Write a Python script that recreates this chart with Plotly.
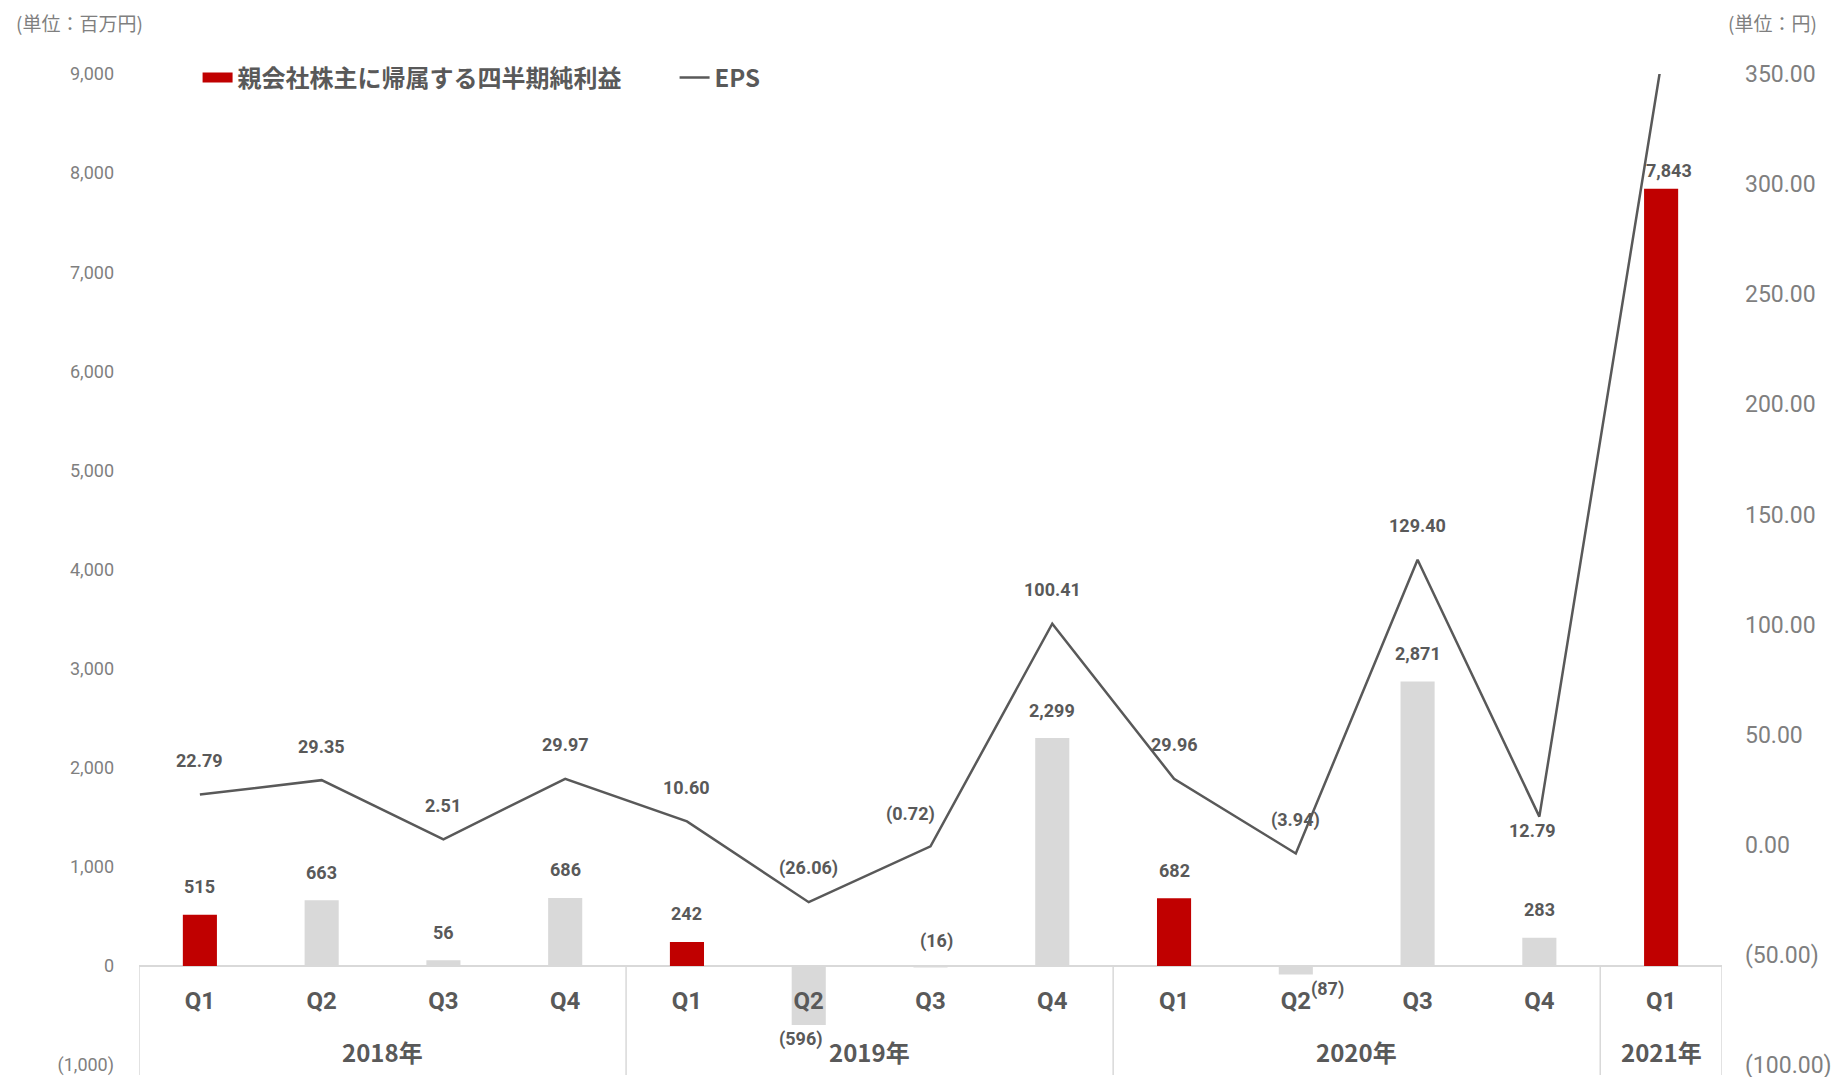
import plotly.graph_objects as go

years = ["2018年"] * 4 + ["2019年"] * 4 + ["2020年"] * 4 + ["2021年"]
quarters = ["Q1", "Q2", "Q3", "Q4"] * 3 + ["Q1"]
net_income = [515, 663, 56, 686, 242, -596, -16, 2299, 682, -87, 2871, 283, 7843]
eps = [22.79, 29.35, 2.51, 29.97, 10.60, -26.06, -0.72, 100.41, 29.96, -3.94, 129.40, 12.79, 354.43]
left_ticks = list(range(-1000, 9001, 1000))
right_ticks = list(range(-100, 351, 50))

# label offsets in px (xshift, yshift) from the value
ni_shift = [(0, 28), (0, 28), (0, 28), (0, 28), (0, 28), (-8, -14), (6, 26),
            (0, 28), (0, 28), (32, -14), (0, 28), (0, 28), (8, 18)]
eps_shift = [(0, 34), (0, 34), (0, 34), (0, 34), (0, 34), (0, 34), (-20, 32),
             (0, 34), (0, 34), (0, 33), (0, 34), (-7, -14), (-9, 13)]

RED = "#C00000"
GREY = "#D9D9D9"
TXT = "#595959"
NUM_FONT = "Roboto, 'Noto Sans CJK JP', sans-serif"
JP_FONT = "'Noto Sans CJK JP', sans-serif"


def paren(v, fmt):
    return "(" + fmt.format(-v) + ")" if v < 0 else fmt.format(v)


x = list(range(len(quarters)))
y_range = [left_ticks[0], left_ticks[-1]]
zero_frac = (0 - y_range[0]) / (y_range[1] - y_range[0])

red_x = [i for i in x if quarters[i] == "Q1"]
grey_x = [i for i in x if quarters[i] != "Q1"]

fig = go.Figure()

fig.add_trace(go.Bar(
    x=red_x,
    y=[net_income[i] for i in red_x],
    marker=dict(color=RED, line=dict(width=0)),
    width=0.28,
    showlegend=False,
    hoverinfo="skip",
))
fig.add_trace(go.Bar(
    x=grey_x,
    y=[net_income[i] for i in grey_x],
    marker=dict(color=GREY, line=dict(width=0)),
    width=0.28,
    showlegend=False,
    hoverinfo="skip",
))
# legend entry drawn as a wide red block, like the original
fig.add_trace(go.Scatter(
    x=[None], y=[None],
    mode="lines",
    line=dict(color=RED, width=12),
    name="親会社株主に帰属する四半期純利益",
))
fig.add_trace(go.Scatter(
    x=x,
    y=eps,
    yaxis="y2",
    mode="lines",
    line=dict(color=TXT, width=2.5),
    name="EPS",
    hoverinfo="skip",
))

annotations = []
for i, v in enumerate(net_income):
    annotations.append(dict(
        x=i, y=v, xref="x", yref="y", text=paren(v, "{:,}"), showarrow=False,
        xshift=ni_shift[i][0], yshift=ni_shift[i][1], yanchor="middle",
        font=dict(family=NUM_FONT, size=18, color=TXT, weight="bold"),
    ))
for i, v in enumerate(eps):
    annotations.append(dict(
        x=i, y=v, xref="x", yref="y2", text=paren(v, "{:.2f}"), showarrow=False,
        xshift=eps_shift[i][0], yshift=eps_shift[i][1], yanchor="middle",
        font=dict(family=NUM_FONT, size=18, color=TXT, weight="bold"),
    ))

# year group labels and dividers
groups = []
for i, yr in enumerate(years):
    if not groups or groups[-1][0] != yr:
        groups.append([yr, i, i])
    else:
        groups[-1][2] = i

shapes = []
for yr, start, end in groups:
    annotations.append(dict(
        x=(start + end) / 2, y=0.014, xref="x", yref="paper", text=yr,
        showarrow=False, yanchor="middle",
        font=dict(family=JP_FONT, size=24, color=TXT, weight="bold"),
    ))
    shapes.append(dict(type="line", xref="x", yref="paper", x0=start - 0.5, x1=start - 0.5,
                       y0=zero_frac, y1=-0.01, line=dict(color=GREY, width=1.5)))
shapes.append(dict(type="line", xref="x", yref="paper", x0=len(x) - 0.5, x1=len(x) - 0.5,
                   y0=zero_frac, y1=-0.01, line=dict(color=GREY, width=1.5)))

annotations.append(dict(
    x=-0.079, y=1.0515, xref="paper", yref="paper", text="(単位：百万円)",
    showarrow=False, xanchor="left", yanchor="middle",
    font=dict(family=JP_FONT, size=19, color="#7F7F7F"),
))
annotations.append(dict(
    x=1.0613, y=1.0515, xref="paper", yref="paper", text="(単位：円)",
    showarrow=False, xanchor="right", yanchor="middle",
    font=dict(family=JP_FONT, size=19, color="#7F7F7F"),
))

fig.update_layout(
    width=1846,
    height=1077,
    barmode="overlay",
    plot_bgcolor="white",
    paper_bgcolor="white",
    margin=dict(l=131, r=132, t=66, b=20, autoexpand=False),
    font=dict(family=NUM_FONT, color=TXT),
    legend=dict(
        orientation="h",
        xref="container",
        yref="container",
        x=0.1027,
        y=0.935,
        xanchor="left",
        yanchor="middle",
        entrywidth=432,
        font=dict(family=JP_FONT, size=24, color=TXT, weight="bold"),
        bgcolor="rgba(0,0,0,0)",
    ),
    annotations=annotations,
    shapes=shapes,
)

fig.update_xaxes(
    range=[-0.5, len(x) - 0.5],
    tickvals=x,
    ticktext=quarters,
    anchor="free",
    position=zero_frac,
    showgrid=False,
    showline=False,
    zeroline=False,
    ticks="",
    automargin=False,
    ticklabelstandoff=18,
    tickfont=dict(family=NUM_FONT, size=24, color=TXT, weight="bold"),
)

fig.update_layout(
    yaxis=dict(
        range=y_range,
        tickvals=left_ticks,
        ticktext=[paren(v, "{:,}") for v in left_ticks],
        showgrid=False,
        zeroline=True,
        zerolinecolor=GREY,
        zerolinewidth=2,
        showline=False,
        ticks="",
        automargin=False,
        ticklabelstandoff=24,
        tickfont=dict(family=NUM_FONT, size=18, color="#7F7F7F"),
    ),
    yaxis2=dict(
        range=[right_ticks[0], right_ticks[-1]],
        overlaying="y",
        side="right",
        tickvals=right_ticks,
        ticktext=[paren(v, "{:.2f}") for v in right_ticks],
        showgrid=False,
        zeroline=False,
        showline=False,
        ticks="",
        automargin=False,
        ticklabelstandoff=22,
        tickfont=dict(family=NUM_FONT, size=23, color="#7F7F7F"),
    ),
)

fig.write_html("out.html")
